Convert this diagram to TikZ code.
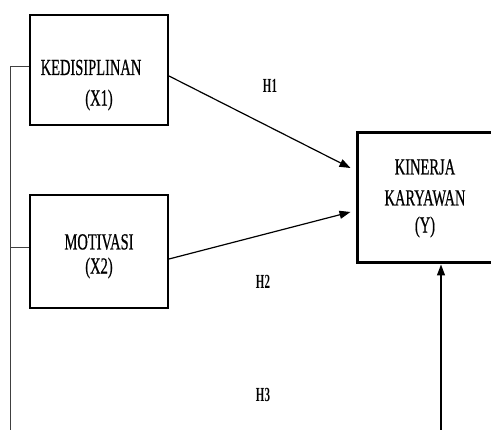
\documentclass[tikz,border=0pt]{standalone}
\usepackage{fontspec}
\setmainfont{Liberation Serif}
\newfontfamily\darkserif{Liberation Serif}[FakeBold=0.8]
\usetikzlibrary{arrows.meta}
\newcommand{\cnd}[1]{\scalebox{0.63}[1]{#1}}
\newcommand{\hnd}[1]{\scalebox{0.55}[1]{#1}}
\begin{document}
\begin{tikzpicture}[x=1pt,y=-1pt,
  varbox/.style={draw, line width=2pt, minimum width=138pt, minimum height=110pt, inner sep=0pt},
  ybox/.style={draw, line width=3pt, minimum width=138pt, minimum height=130pt, inner sep=0pt},
  lbl/.style={inner sep=0pt, font=\darkserif\fontsize{23}{28}\selectfont},
  hlbl/.style={inner sep=0pt, font=\fontsize{20}{24}\selectfont\bfseries},
  conn/.style={line width=1.2pt, -{Triangle[length=11pt,width=8pt]}},
  side/.style={line width=1pt, draw=black!75}]
\useasboundingbox (0,0) rectangle (491,430);
\fill[white] (0,0) rectangle (491,430);
% boxes
\node[varbox] (X1) at (99,70) {};
\node[varbox, minimum height=113pt] (X2) at (99,251.5) {};
\node[ybox] (Y) at (426,198) {};
% texts
\node[lbl] (t1a) at (91,67.5) {\cnd{KEDISIPLINAN}};
\node[lbl] (t1b) at (99,100) {\cnd{(X1)}};
\node[lbl] (t2a) at (99,242) {\cnd{MOTIVASI}};
\node[lbl] (t2b) at (99,268) {\cnd{(X2)}};
\node[lbl] (t3a) at (425,167) {\cnd{KINERJA}};
\node[lbl] (t3b) at (425,198) {\cnd{KARYAWAN}};
\node[lbl] (t3c) at (425,227) {\cnd{(Y)}};
\node[hlbl] (h1) at (270,86) {\hnd{H1}};
\node[hlbl] (h2) at (263,282) {\hnd{H2}};
\node[hlbl] (h3) at (263,395) {\hnd{H3}};
% connectors
\draw[conn] ([yshift=-6pt]X1.east) -- ([xshift=-5pt,yshift=30pt]Y.west);
\draw[conn] ([yshift=-7.5pt]X2.east) -- ([xshift=-5pt,yshift=-14pt]Y.west);
\coordinate (b3) at (441,430);
\draw[conn] (b3) -- (b3 |- Y.south);
\coordinate (L) at (10,430);
\coordinate (L1) at (10,67);
\coordinate (L2) at (10,248);
\draw[side] (L) -- (L1) -- (L1 -| X1.west);
\draw[side] (L2) -- (L2 -| X2.west);
\end{tikzpicture}
\end{document}
